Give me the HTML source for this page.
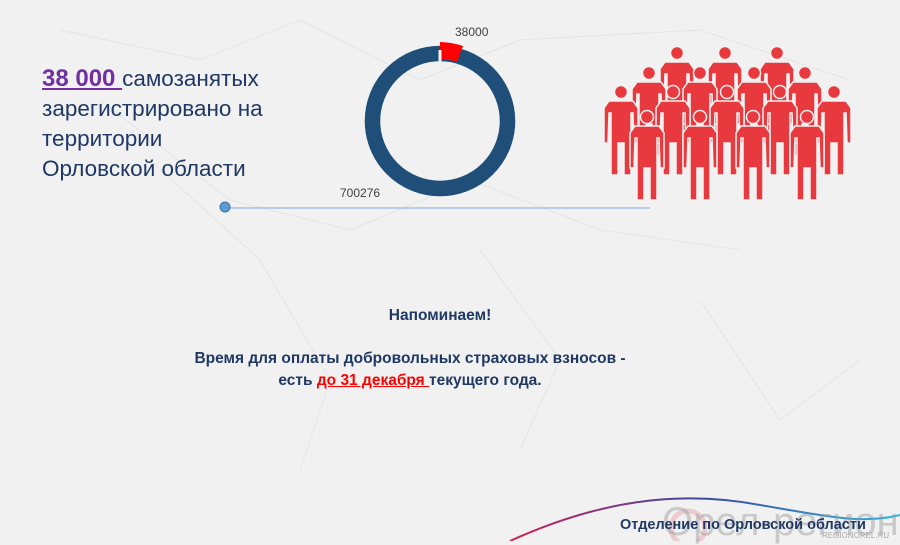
<!DOCTYPE html>
<html><head><meta charset="utf-8"><style>
body{margin:0;width:900px;height:541px;overflow:hidden;background:#f1f1f1;font-family:"Liberation Sans","DejaVu Sans",sans-serif;position:relative}
.t{position:absolute;color:#1f3864}
</style></head><body>
<svg width="900" height="541" style="position:absolute;left:0;top:0">
<defs>
<g id="p">
<circle cx="0" cy="7" r="6.5"/>
<path d="M-12 16 H12 L17 23 L17 58 L13 58 L12 28 L10 28 L10 90 L3 90 L3 58 L-3 58 L-3 90 L-10 90 L-10 28 L-12 28 L-13 58 L-17 58 L-17 23 Z"/>
</g>
<linearGradient id="g" x1="0" x2="1"><stop offset="0" stop-color="#d0205a"/><stop offset=".5" stop-color="#3a4b9a"/><stop offset="1" stop-color="#2bb6e8"/></linearGradient>
</defs>
<g stroke="#e4e4e4" stroke-width="1" fill="none">
<path d="M60 30 L200 60 L300 20 L420 80 L520 40 L700 30 L850 80 M150 160 L260 260 L330 380 L300 470 M480 250 L560 360 L520 450 M700 300 L780 420 L860 360 M100 100 L230 200 L350 230 L470 180 L600 230 L740 250"/>
</g>
<circle cx="440" cy="121" r="67.5" fill="none" stroke="#1f4e79" stroke-width="15.5"/>
<path d="M440 42 A80 80 0 0 1 463 46 L457 62 A63 63 0 0 0 440 59 Z" fill="#f00"/>
<line x1="440" y1="50" x2="440" y2="62" stroke="#f1f1f1" stroke-width="3"/>
<line x1="225" y1="208" x2="650" y2="208" stroke="#7da7d9" stroke-width="1"/>
<circle cx="225" cy="207" r="5" fill="#5b9bd5" stroke="#41719c"/>
<g fill="#e8393f" stroke="#f1f1f1" stroke-width="1.5">
<use href="#p" x="677" y="46"/><use href="#p" x="725" y="46"/><use href="#p" x="777" y="46"/>
<use href="#p" x="649" y="66"/><use href="#p" x="700" y="66"/><use href="#p" x="754" y="66"/><use href="#p" x="805" y="66"/>
<use href="#p" x="621" y="85"/><use href="#p" x="673" y="85"/><use href="#p" x="727" y="85"/><use href="#p" x="780" y="85"/><use href="#p" x="834" y="85"/>
<use href="#p" x="647" y="110"/><use href="#p" x="700" y="110"/><use href="#p" x="753" y="110"/><use href="#p" x="807" y="110"/>
</g>
<path d="M510 541 C600 500 680 490 760 505 C820 515 860 525 900 515" stroke="url(#g)" stroke-width="2" fill="none"/>
<circle cx="688" cy="528" r="17" fill="none" stroke="#e9b0b8" stroke-width="5" opacity=".6"/>
</svg>
<div class="t" style="left:455px;top:25px;font-size:12px;color:#404040">38000</div>
<div class="t" style="left:340px;top:186px;font-size:12px;color:#404040">700276</div>
<div class="t" style="left:42px;top:64px;font-size:22.5px;line-height:30px;color:#1f3864"><span style="color:#7030a0;font-weight:bold;text-decoration:underline;font-size:24px">38 000 </span>самозанятых<br>зарегистрировано на<br>территории<br>Орловской области</div>
<div class="t" style="left:0;width:880px;text-align:center;top:307px;font-size:15.5px;font-weight:bold">Напоминаем!</div>
<div class="t" style="left:0;width:820px;text-align:center;top:348px;font-size:15.5px;font-weight:bold;line-height:22px">Время для оплаты добровольных страховых взносов -<br>есть <span style="color:#f00;text-decoration:underline">до 31 декабря </span>текущего года.</div>
<div class="t" style="left:662px;top:500px;font-size:40px;color:#999;opacity:.45">Орел-регион</div>
<div class="t" style="left:620px;top:517px;font-size:14.5px;font-weight:bold">Отделение по Орловской области</div>
<div class="t" style="left:822px;top:531px;font-size:8px;color:#aaa">REGIONOREL.RU</div>
</body></html>
